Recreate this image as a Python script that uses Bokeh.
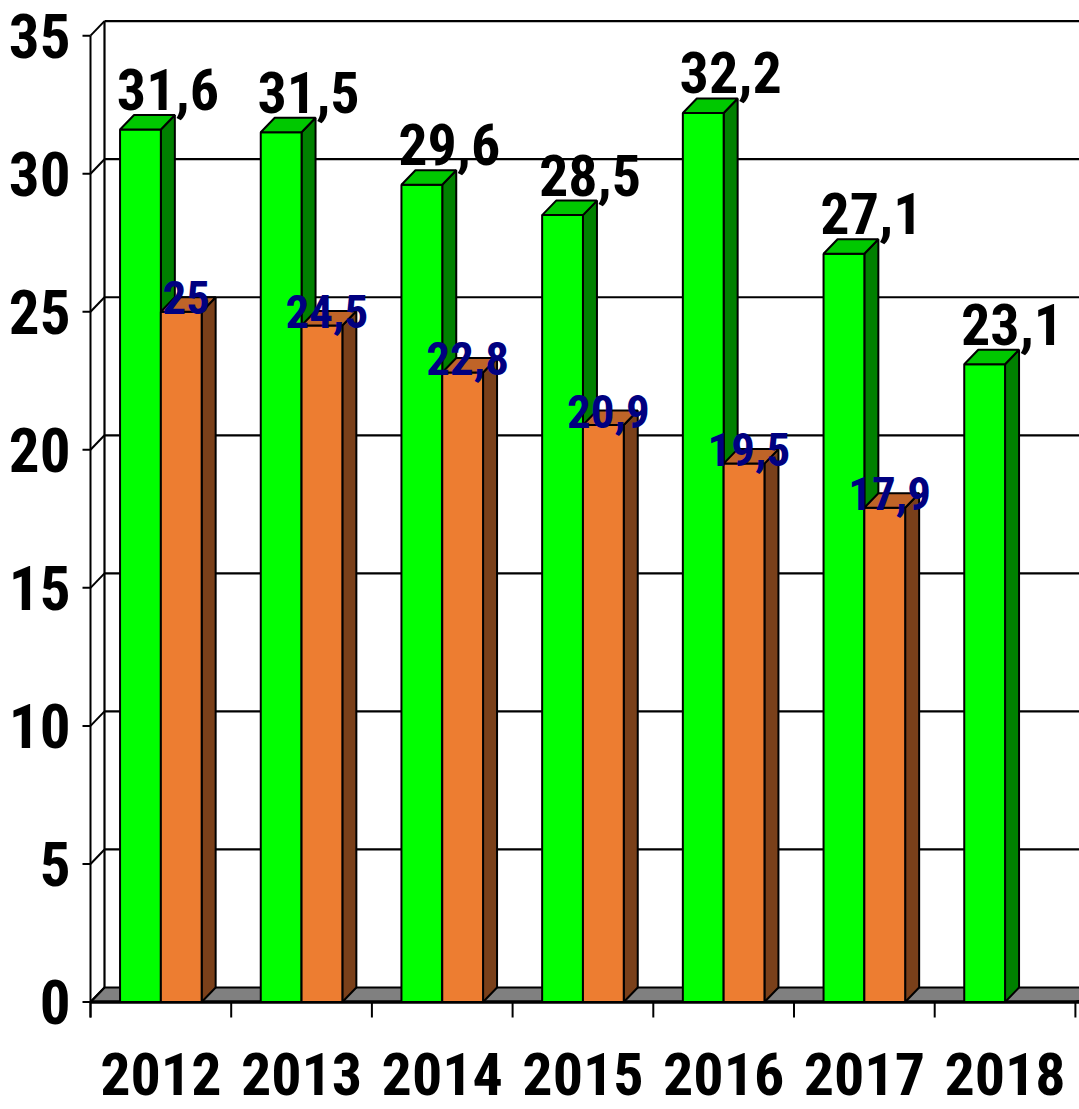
from bokeh.plotting import figure
from bokeh.models import Range1d, ColumnDataSource
from bokeh.core.properties import value
from bokeh.embed import file_html
from bokeh.resources import INLINE

# ---- data ----
years = ["2012", "2013", "2014", "2015", "2016", "2017", "2018"]
green_vals = [31.6, 31.5, 29.6, 28.5, 32.2, 27.1, 23.1]
orange_vals = [25, 24.5, 22.8, 20.9, 19.5, 17.9, None]
y_ticks = [0, 5, 10, 15, 20, 25, 30, 35]

# ---- geometry (pixel mapping) ----
W, H = 1079, 1109
PX_X, PX_Y = 140.7, 27.61
X0, Y0 = 90.0, 1001.5


def ux(px):
    return (px - X0) / PX_X


def vy(py):
    return (Y0 - py) / PX_Y


DX = 14.0 / PX_X
DY = 14.5 / PX_Y
BW = 0.29
YMAX = 35
NCAT = len(years)
FONT = value("'Roboto Condensed', 'Liberation Sans Narrow', Roboto, sans-serif")

p = figure(width=W, height=H, x_range=Range1d(ux(0), ux(W)),
           y_range=Range1d(vy(H), vy(0)), output_backend="svg",
           toolbar_location=None, min_border=0,
           x_axis_location=None, y_axis_location=None)
p.grid.visible = False
p.outline_line_color = None
p.background_fill_color = "white"

# back wall gridlines & wall edges
xs, ys = [], []
for t in y_ticks[1:]:
    xs.append([DX, ux(1100)])
    ys.append([t + DY, t + DY])
xs.append([DX, DX]); ys.append([DY, YMAX + DY])
p.multi_line(xs, ys, line_color="black", line_width=2.2)

# floor
p.patch([0, NCAT, NCAT + DX + 0.2, DX], [0, 0, DY, DY],
        fill_color="#808080", line_color="black", line_width=2)
p.line([0, NCAT + 0.1], [0, 0], line_color="black", line_width=3.5)

# axis, ticks, diagonals
xs, ys = [], []
xs.append([0, 0]); ys.append([vy(1017), YMAX])
for t in y_ticks:
    xs.append([ux(82), 0]); ys.append([t, t])
    xs.append([0, DX]); ys.append([t, t + DY])
for i in range(NCAT + 1):
    xs.append([i, i]); ys.append([0, vy(1017)])
p.multi_line(xs, ys, line_color="black", line_width=2)


def bars(vals, x_off, front, top, side):
    f = dict(l=[], r=[], t=[])
    tx, ty, sx, sy = [], [], [], []
    for i, v in enumerate(vals):
        if v is None:
            continue
        x0 = i + x_off
        x1 = x0 + BW
        f["l"].append(x0); f["r"].append(x1); f["t"].append(v)
        tx.append([x0, x1, x1 + DX, x0 + DX]); ty.append([v, v, v + DY, v + DY])
        sx.append([x1, x1, x1 + DX, x1 + DX]); sy.append([0, v, v + DY, DY])
    p.patches(sx, sy, fill_color=side, line_color="black", line_width=2)
    p.quad(left="l", right="r", top="t", bottom=0, source=ColumnDataSource(f),
           fill_color=front, line_color="black", line_width=2)
    p.patches(tx, ty, fill_color=top, line_color="black", line_width=2)


for i in range(NCAT):
    gv = [green_vals[i] if j == i else None for j in range(NCAT)]
    ov = [orange_vals[i] if j == i else None for j in range(NCAT)]
    bars(gv, 0.5 - BW, "#00FF00", "#00C800", "#008000")
    bars(ov, 0.5, "#ED7D31", "#BF6428", "#7A401A")


def fmt(v):
    return f"{v:g}".replace(".", ",")


# value labels
gsrc = ColumnDataSource(dict(x=[i + 0.55 for i in range(NCAT)],
                             y=[v + 1.45 for v in green_vals],
                             t=[fmt(v) for v in green_vals]))
p.text(x="x", y="y", text="t", source=gsrc, text_font=FONT, text_font_size="58px",
       text_font_style="bold", text_color="black", text_align="center",
       text_baseline="middle")
oi = [i for i, v in enumerate(orange_vals) if v is not None]
osrc = ColumnDataSource(dict(x=[i + 0.68 for i in oi],
                             y=[orange_vals[i] + 0.5 for i in oi],
                             t=[fmt(orange_vals[i]) for i in oi]))
p.text(x="x", y="y", text="t", source=osrc, text_font=FONT, text_font_size="47px",
       text_font_style="bold", text_color="#000080", text_align="center",
       text_baseline="middle")

# axis labels
p.text(x=[ux(70)] * len(y_ticks), y=y_ticks, text=[str(t) for t in y_ticks],
       text_font=FONT, text_font_size="61px", text_font_style="bold",
       text_color="black", text_align="right", text_baseline="middle")
p.text(x=[i + 0.5 for i in range(NCAT)], y=[vy(1073)] * NCAT, text=years,
       text_font=FONT, text_font_size="60px", text_font_style="bold",
       text_color="black", text_align="center", text_baseline="middle")

open("out.html", "w").write(file_html(p, INLINE))
